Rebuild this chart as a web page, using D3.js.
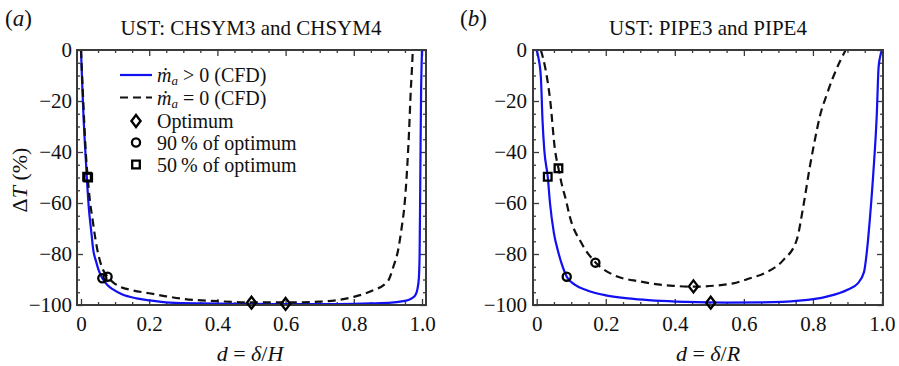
<!DOCTYPE html>
<html><head><meta charset="utf-8">
<script src="https://cdn.jsdelivr.net/npm/d3@7"></script>
<style>
body{margin:0;background:#fff}
svg{display:block}
text{font-family:"Liberation Serif","Times New Roman",serif;fill:#111}
</style>
</head><body>
<svg id="c" width="899" height="366"></svg>
<script>
// ---------------- DATA ----------------
// Panel (a): CHSYM3 and CHSYM4
const aBlueX = [0, 0.004, 0.008, 0.012, 0.017, 0.023, 0.03, 0.036, 0.044, 0.051, 0.0625, 0.08, 0.095, 0.12, 0.163, 0.2, 0.26, 0.35, 0.45, 0.55, 0.65, 0.75, 0.85, 0.91, 0.94, 0.96, 0.972, 0.981, 0.987, 0.991, 0.993, 0.995, 0.997, 1.0];
const aBlueY = [0, -15, -28, -38, -49.7, -62, -71, -78.4, -82.8, -86, -89.5, -92.5, -94, -95.8, -97.4, -98.2, -99.1, -99.4, -99.5, -99.6, -99.6, -99.6, -99.4, -99.1, -98.6, -98, -97.2, -96, -93.5, -89, -80, -50, -20, 0];
const aDashX = [0, 0.004, 0.009, 0.014, 0.02, 0.027, 0.034, 0.041, 0.048, 0.061, 0.078, 0.095, 0.114, 0.15, 0.2, 0.25, 0.3, 0.4, 0.5, 0.6, 0.7, 0.75, 0.8, 0.85, 0.9, 0.916, 0.93, 0.94, 0.95, 0.957, 0.962, 0.967, 0.971, 0.973];
const aDashY = [0, -12, -27, -40, -50.5, -60, -66.5, -73, -78.4, -85, -88.9, -91.2, -92.8, -94.2, -95.4, -96.6, -97.6, -98.5, -99.0, -99.0, -98.7, -98.1, -96.8, -94.6, -90.6, -85, -78.4, -70, -58.8, -45, -32, -16, -6, 0];
const aOptX = [0.5, 0.6], aOptY = [-99.1, -99.6];
const a90X = [0.0625, 0.078], a90Y = [-89.5, -88.9];
const a50X = [0.018, 0.021], a50Y = [-49.7, -50.0];

// Panel (b): PIPE3 and PIPE4
const bBlueX = [0, 0.005, 0.012, 0.017, 0.022, 0.032, 0.0385, 0.05, 0.062, 0.072, 0.087, 0.11, 0.145, 0.2, 0.28, 0.434, 0.55, 0.65, 0.76, 0.84, 0.9, 0.93, 0.948, 0.957, 0.965, 0.975, 0.985, 0.99, 0.994, 1.0];
const bBlueY = [0, -3, -10.5, -28, -39.2, -49.7, -60, -71.9, -79, -83.7, -88.9, -92, -94.2, -96.2, -97.6, -98.8, -99.1, -99.0, -98.3, -96.7, -94, -91.5, -87, -78, -66, -48, -25, -7, -3, 0];
const bDashX = [0.012, 0.024, 0.039, 0.053, 0.063, 0.072, 0.085, 0.096, 0.13, 0.171, 0.222, 0.3, 0.396, 0.454, 0.569, 0.618, 0.66, 0.714, 0.753, 0.772, 0.791, 0.806, 0.82, 0.84, 0.859, 0.878, 0.895];
const bDashY = [0, -6.5, -19.6, -39.2, -46.4, -52.3, -59, -65.4, -75.8, -83.4, -88.2, -90.8, -92.5, -92.8, -91.5, -89.5, -87.5, -82.4, -74.5, -61.4, -45.8, -35, -26, -17.5, -10.5, -4.5, 0];
const bOptX = [0.454, 0.504], bOptY = [-92.7, -99.1];
const b90X = [0.087, 0.170], b90Y = [-88.9, -83.4];
const b50X = [0.032, 0.063], b50Y = [-49.7, -46.4];

// Ticks and labels
const xTickValues = [0, 0.2, 0.4, 0.6, 0.8, 1.0];
const xTickLabels = ["0", "0.2", "0.4", "0.6", "0.8", "1.0"];
const yTickValues = [0, -20, -40, -60, -80, -100];
const yTickLabels = ["0", "\u221220", "\u221240", "\u221260", "\u221280", "\u2212100"];
const panelLetters = ["a", "b"];
const panelTitles = ["UST: CHSYM3 and CHSYM4", "UST: PIPE3 and PIPE4"];
const xTitleVars = ["H", "R"];
const legendLabels = ["> 0 (CFD)", "= 0 (CFD)", "Optimum", "90\u2009% of optimum", "50\u2009% of optimum"];

// ---------------- DRAW ----------------
const svg = d3.select("#c");
const BLUE = "#1010f0", FRAME = "#3a3a3a";
const FONT = 21;

const panels = [
  {left: 77, right: 426, xDomain: [-0.0117, 1.0117], blue: [aBlueX, aBlueY], dash: [aDashX, aDashY],
   opt: [aOptX, aOptY], p90: [a90X, a90Y], p50: [a50X, a50Y], letterX: 5, titleX: 251, xTitleX: 250, legend: true, yTitle: true, yPad: 5},
  {left: 533, right: 883, xDomain: [-0.0107, 1.0029], blue: [bBlueX, bBlueY], dash: [bDashX, bDashY],
   opt: [bOptX, bOptY], p90: [b90X, b90Y], p50: [b50X, b50Y], letterX: 460, titleX: 708, xTitleX: 708, legend: false, yTitle: false, yPad: 6}
];
const TOP = 50, BOTTOM = 305;

const markerPath = {
  diamond: "M0,-6L4.6,0L0,6L-4.6,0Z",
  circle: d3.symbol(d3.symbolCircle, 52)(),
  square: "M-3.8,-3.8H3.8V3.8H-3.8Z"
};

const minorX = d3.range(0, 1.0001, 0.05).filter(v => Math.abs(Math.round(v / 0.2) * 0.2 - v) > 1e-6);
const minorY = d3.range(-100, 0.001, 5).filter(v => v % 20 !== 0);

panels.forEach((p, pi) => {
  const x = d3.scaleLinear().domain(p.xDomain).range([p.left, p.right]);
  const y = d3.scaleLinear().domain([-100, 0]).range([BOTTOM, TOP]);
  const g = svg.append("g");

  const clipId = "clip" + pi;
  svg.append("clipPath").attr("id", clipId).append("rect")
    .attr("x", p.left).attr("y", TOP - 1).attr("width", p.right - p.left).attr("height", BOTTOM - TOP + 1);

  // axes
  const styleAxis = sel => {
    sel.select(".domain").remove();
    sel.selectAll("line").attr("stroke", FRAME).attr("stroke-width", 1.3);
    sel.selectAll("text").attr("font-size", FONT).attr("fill", "#111");
  };
  g.append("g").attr("transform", `translate(0,${BOTTOM})`)
    .call(d3.axisBottom(x).tickValues(xTickValues).tickFormat((d, i) => xTickLabels[i]).tickSizeInner(-6).tickSizeOuter(0).tickPadding(11)).call(styleAxis);
  g.append("g").attr("transform", `translate(0,${BOTTOM})`)
    .call(d3.axisBottom(x).tickValues(minorX).tickFormat("").tickSizeInner(-3).tickSizeOuter(0)).call(styleAxis);
  g.append("g").attr("transform", `translate(0,${TOP})`)
    .call(d3.axisTop(x).tickValues(xTickValues).tickFormat("").tickSizeInner(-6).tickSizeOuter(0)).call(styleAxis);
  g.append("g").attr("transform", `translate(0,${TOP})`)
    .call(d3.axisTop(x).tickValues(minorX).tickFormat("").tickSizeInner(-3).tickSizeOuter(0)).call(styleAxis);
  g.append("g").attr("transform", `translate(${p.left},0)`)
    .call(d3.axisLeft(y).tickValues(yTickValues).tickFormat((d, i) => yTickLabels[i]).tickSizeInner(-6).tickSizeOuter(0).tickPadding(p.yPad)).call(styleAxis);
  g.append("g").attr("transform", `translate(${p.left},0)`)
    .call(d3.axisLeft(y).tickValues(minorY).tickFormat("").tickSizeInner(-3).tickSizeOuter(0)).call(styleAxis);
  g.append("g").attr("transform", `translate(${p.right},0)`)
    .call(d3.axisRight(y).tickValues(yTickValues).tickFormat("").tickSizeInner(-6).tickSizeOuter(0)).call(styleAxis);
  g.append("g").attr("transform", `translate(${p.right},0)`)
    .call(d3.axisRight(y).tickValues(minorY).tickFormat("").tickSizeInner(-3).tickSizeOuter(0)).call(styleAxis);

  // lines
  const line = d3.line().x(d => x(d[0])).y(d => y(d[1])).curve(d3.curveMonotoneX);
  const lg = g.append("g").attr("clip-path", `url(#${clipId})`);
  lg.append("path").datum(d3.zip(p.blue[0], p.blue[1])).attr("d", line)
    .attr("fill", "none").attr("stroke", BLUE).attr("stroke-width", 2.2);
  lg.append("path").datum(d3.zip(p.dash[0], p.dash[1])).attr("d", line)
    .attr("fill", "none").attr("stroke", "#111").attr("stroke-width", 2.2).attr("stroke-dasharray", "8,5");

  // frame
  g.append("rect").attr("x", p.left).attr("y", TOP).attr("width", p.right - p.left).attr("height", BOTTOM - TOP)
    .attr("fill", "none").attr("stroke", FRAME).attr("stroke-width", 2);

  // markers
  const drawMarkers = (arr, shape) => {
    g.selectAll(null).data(d3.zip(arr[0], arr[1])).join("path")
      .attr("d", markerPath[shape])
      .attr("transform", d => `translate(${x(d[0])},${y(d[1])})`)
      .attr("fill", "none").attr("stroke", "#000").attr("stroke-width", 2.3);
  };
  drawMarkers(p.opt, "diamond");
  drawMarkers(p.p90, "circle");
  drawMarkers(p.p50, "square");

  // panel letter
  const lt = g.append("text").attr("x", p.letterX).attr("y", 26).attr("font-size", 23);
  lt.append("tspan").text("(");
  lt.append("tspan").attr("font-style", "italic").text(panelLetters[pi]);
  lt.append("tspan").text(")");

  // title
  g.append("text").attr("x", p.titleX).attr("y", 35).attr("text-anchor", "middle").attr("font-size", FONT).text(panelTitles[pi]);

  // x title
  const xt = g.append("text").attr("x", p.xTitleX).attr("y", 361).attr("text-anchor", "middle").attr("font-size", 22);
  xt.append("tspan").attr("font-style", "italic").text("d");
  xt.append("tspan").text(" = ");
  xt.append("tspan").attr("font-style", "italic").text("\u03b4");
  xt.append("tspan").text("/");
  xt.append("tspan").attr("font-style", "italic").text(xTitleVars[pi]);

  if (p.yTitle) {
    const yt = g.append("text").attr("transform", "translate(27,180) rotate(-90)").attr("text-anchor", "middle").attr("font-size", 22);
    yt.append("tspan").text("\u0394");
    yt.append("tspan").attr("font-style", "italic").text("T");
    yt.append("tspan").text(" (%)");
  }

  if (p.legend) {
    const rows = [75, 97.5, 121, 142.5, 164.5];
    const lgd = g.append("g");
    lgd.append("line").attr("x1", 120).attr("x2", 152).attr("y1", rows[0]).attr("y2", rows[0]).attr("stroke", BLUE).attr("stroke-width", 2.2);
    lgd.append("line").attr("x1", 120).attr("x2", 152).attr("y1", rows[1]).attr("y2", rows[1]).attr("stroke", "#111").attr("stroke-width", 2.2).attr("stroke-dasharray", "8,5");
    ["diamond", "circle", "square"].forEach((s, i) => {
      lgd.append("path").attr("d", markerPath[s]).attr("transform", `translate(136,${rows[i + 2]})`)
        .attr("fill", "none").attr("stroke", "#000").attr("stroke-width", 2.3);
    });
    legendLabels.forEach((lab, i) => {
      const t = lgd.append("text").attr("x", 157).attr("y", rows[i] + 7).attr("font-size", 20);
      if (i < 2) {
        t.append("tspan").attr("font-style", "italic").text("\u1e41");
        t.append("tspan").attr("font-style", "italic").attr("font-size", 13).attr("baseline-shift", "-3").text("a");
        t.append("tspan").text(" " + lab);
      } else {
        t.text(lab);
      }
    });
  }
});
</script>
</body></html>
